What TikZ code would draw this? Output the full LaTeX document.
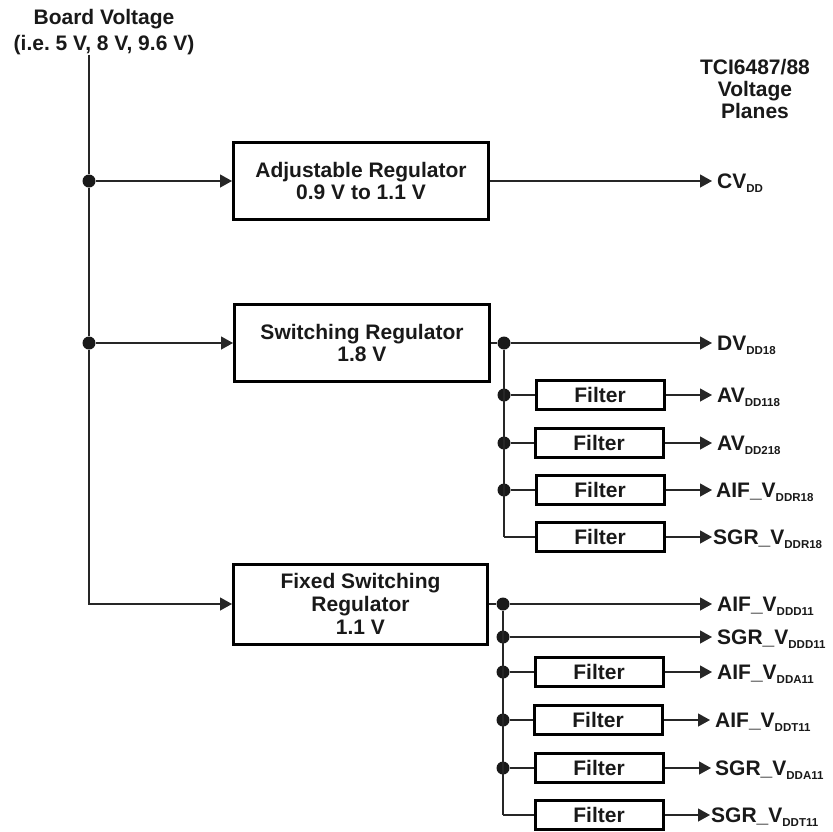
\documentclass[tikz,border=0pt]{standalone}
\usepackage{fontspec}
\setmainfont{Liberation Sans}
\usetikzlibrary{arrows.meta}
\frenchspacing
\newcommand{\lsub}[1]{\raisebox{-4.5pt}{\fontsize{11.5}{11.5}\selectfont #1}}
\begin{document}
\begin{tikzpicture}[x=1pt,y=-1pt,
  font=\fontsize{21}{22.8}\selectfont\bfseries,
  box/.style={draw,line width=3pt,align=center,inner sep=0pt,text=black!90},
  regbox/.style={box,minimum width=255,minimum height=77},
  filterbox/.style={box,minimum width=128,minimum height=29},
  conn/.style={line width=1.3pt,black!85},
  arr/.style={conn,-{Triangle[length=12pt,width=13pt]}},
  dot/.style={circle,fill=black!90,inner sep=0pt,minimum size=13pt},
  lbl/.style={anchor=base west,inner sep=0pt,text=black!90},
  hdr/.style={align=center,inner sep=0pt,text=black!90}
]
\useasboundingbox (0,0) rectangle (833,831);

% headers
\node[hdr,font=\fontsize{21}{25.5}\selectfont\bfseries] (bv) at (104,32) {Board Voltage\\(i.e.\ 5 V, 8 V, 9.6 V)};
\node[hdr,font=\fontsize{21}{21.8}\selectfont\bfseries] (tci) at (755,89) {TCI6487/88\\Voltage\\Planes};

% regulators
\node[regbox] (adj) at (361,181) {Adjustable Regulator\\0.9 V to 1.1 V};
\node[regbox] (sw) at (362,343) {Switching Regulator\\1.8 V};
\node[regbox,minimum width=254,minimum height=80] (fix) at (360.5,604) {Fixed Switching\\Regulator\\1.1 V};

% input bus
\node[dot] (d1) at (89,181) {};
\node[dot] (d2) at (89,343) {};
\coordinate (bvend) at (bv.south -| d1);
\draw[conn] (bvend) -- (d1) -- (d2);
\draw[arr] (d2) |- (fix.west);
\draw[arr] (d1) -- (adj.west);
\draw[arr] (d2) -- (sw.west);

% CVDD
\coordinate (cvend) at (712,181);
\draw[arr] (adj.east) -- (cvend);
\node[lbl] (cv) at ([xshift=5pt,yshift=-7pt]cvend) {CV\lsub{DD}};

% 1.8 V branch
\node[dot] (s0) at (504,343) {};
\node[dot] (s1) at (504,395) {};
\node[dot] (s2) at (504,443) {};
\node[dot] (s3) at (504,490) {};
\coordinate (s4) at (504,537);
\node[filterbox] (f1) at (600,395) {Filter};
\node[filterbox] (f2) at (599,443) {Filter};
\node[filterbox] (f3) at (600,490) {Filter};
\node[filterbox] (f4) at (600,537) {Filter};
\draw[conn] (sw.east |- s0) -- (s0) -- (s4);
\draw[conn] (s1) -- (f1.west);
\draw[conn] (s2) -- (f2.west);
\draw[conn] (s3) -- (f3.west);
\draw[conn] (s4) -- (f4.west);
\coordinate (e0) at (712,343);
\coordinate (e1) at (712,395);
\coordinate (e2) at (712,443);
\coordinate (e3) at (712,490);
\coordinate (e4) at (712,537);
\draw[arr] (s0) -- (e0);
\draw[arr] (f1.east) -- (e1);
\draw[arr] (f2.east) -- (e2);
\draw[arr] (f3.east) -- (e3);
\draw[arr] (f4.east) -- (e4);
\node[lbl] (l0) at ([xshift=5pt,yshift=-7pt]e0) {DV\lsub{DD18}};
\node[lbl] (l1) at ([xshift=5pt,yshift=-7pt]e1) {AV\lsub{DD118}};
\node[lbl] (l2) at ([xshift=5pt,yshift=-7pt]e2) {AV\lsub{DD218}};
\node[lbl] (l3) at ([xshift=4pt,yshift=-7pt]e3) {AIF\_V\lsub{DDR18}};
\node[lbl] (l4) at ([xshift=1pt,yshift=-7pt]e4) {SGR\_V\lsub{DDR18}};

% 1.1 V branch
\node[dot] (t0) at (503,604) {};
\node[dot] (t1) at (503,637) {};
\node[dot] (t2) at (503,672) {};
\node[dot] (t3) at (503,720) {};
\node[dot] (t4) at (503,768) {};
\coordinate (t5) at (503,815);
\node[filterbox] (g1) at (599,672) {Filter};
\node[filterbox] (g2) at (598,720) {Filter};
\node[filterbox] (g3) at (599,768) {Filter};
\node[filterbox] (g4) at (599,815) {Filter};
\draw[conn] (fix.east |- t0) -- (t0) -- (t5);
\draw[conn] (t2) -- (g1.west);
\draw[conn] (t3) -- (g2.west);
\draw[conn] (t4) -- (g3.west);
\draw[conn] (t5) -- (g4.west);
\coordinate (u0) at (712,604);
\coordinate (u1) at (712,637);
\coordinate (u2) at (712,672);
\coordinate (u3) at (710,720);
\coordinate (u4) at (711,768);
\coordinate (u5) at (710,815);
\draw[arr] (t0) -- (u0);
\draw[arr] (t1) -- (u1);
\draw[arr] (g1.east) -- (u2);
\draw[arr] (g2.east) -- (u3);
\draw[arr] (g3.east) -- (u4);
\draw[arr] (g4.east) -- (u5);
\node[lbl] (m0) at ([xshift=5pt,yshift=-7pt]u0) {AIF\_V\lsub{DDD11}};
\node[lbl] (m1) at ([xshift=5pt,yshift=-7pt]u1) {SGR\_V\lsub{DDD11}};
\node[lbl] (m2) at ([xshift=5pt,yshift=-7pt]u2) {AIF\_V\lsub{DDA11}};
\node[lbl] (m3) at ([xshift=5pt,yshift=-7pt]u3) {AIF\_V\lsub{DDT11}};
\node[lbl] (m4) at ([xshift=4pt,yshift=-7pt]u4) {SGR\_V\lsub{DDA11}};
\node[lbl] (m5) at ([xshift=1pt,yshift=-7pt]u5) {SGR\_V\lsub{DDT11}};
\end{tikzpicture}
\end{document}
